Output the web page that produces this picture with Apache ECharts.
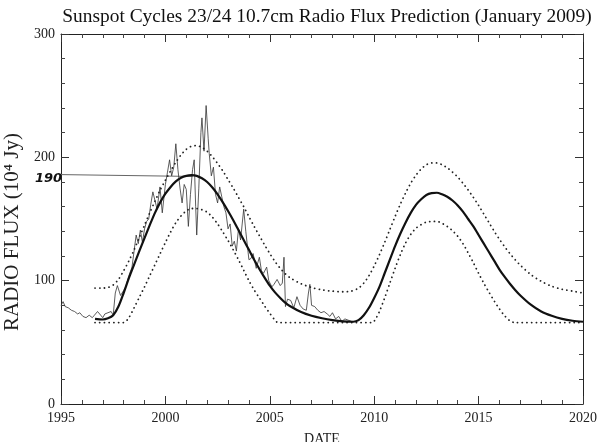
<!DOCTYPE html>
<html>
<head>
<meta charset="utf-8">
<script src="https://cdn.jsdelivr.net/npm/echarts@6/dist/echarts.min.js"></script>
<style>html,body{margin:0;padding:0;background:#fff;}#c{width:599px;height:442px;}</style>
</head>
<body>
<div id="c"></div>
<script>
// Observed monthly 10.7cm flux (thin line)
var obsYears = [1995.0,1995.1,1995.2,1995.35,1995.5,1995.65,1995.8,1995.9,1996.05,1996.2,1996.35,1996.5,1996.6,1996.75,1996.9,1997.0,1997.1,1997.25,1997.4,1997.5,1997.6,1997.7,1997.85,1998.0,1998.1,1998.25,1998.4,1998.5,1998.6,1998.7,1998.8,1998.9,1999.0,1999.1,1999.2,1999.3,1999.4,1999.5,1999.6,1999.74,1999.85,2000.0,2000.1,2000.2,2000.3,2000.4,2000.5,2000.6,2000.7,2000.8,2000.9,2001.0,2001.1,2001.2,2001.3,2001.38,2001.45,2001.5,2001.6,2001.7,2001.75,2001.85,2001.95,2002.05,2002.1,2002.2,2002.3,2002.4,2002.5,2002.6,2002.7,2002.8,2002.9,2003.0,2003.1,2003.2,2003.3,2003.4,2003.5,2003.6,2003.75,2003.85,2004.0,2004.1,2004.2,2004.35,2004.5,2004.6,2004.7,2004.85,2004.95,2005.1,2005.2,2005.35,2005.5,2005.6,2005.68,2005.75,2005.85,2006.0,2006.15,2006.3,2006.45,2006.6,2006.75,2006.85,2006.92,2007.0,2007.15,2007.3,2007.45,2007.6,2007.75,2007.88,2008.0,2008.15,2008.3,2008.45,2008.6,2008.75,2008.9];
var obsFlux = [80,83,79,78,76,75,73,74,71,70,72,70,72,75,72,70,73,74,75,72,90,96,88,92,95,104,111,124,137,130,141,131,142,148,150,162,172,165,158,176,155,178,188,198,185,192,211,190,175,163,178,174,144,170,190,198,160,137,175,220,232,205,242,215,203,185,192,170,163,176,168,160,155,142,146,128,132,124,142,133,158,140,117,118,122,110,119,108,106,111,100,95,97,101,96,98,119,79,85,84,78,87,80,77,76,90,97,80,79,76,74,75,73,71,74,69,71,67,69,68,67];

// Predicted smoothed flux (thick line)
var predYears = [1996.63,1997.0,1997.25,1997.5,1997.75,1998.0,1998.25,1998.5,1998.75,1999.0,1999.25,1999.5,1999.75,2000.0,2000.25,2000.5,2000.75,2001.0,2001.25,2001.5,2001.75,2002.0,2002.25,2002.5,2002.75,2003.0,2003.25,2003.5,2003.75,2004.0,2004.25,2004.5,2004.75,2005.0,2005.25,2005.5,2005.75,2006.0,2006.5,2007.0,2007.5,2008.0,2008.5,2009.0,2009.25,2009.5,2009.75,2010.0,2010.25,2010.5,2010.75,2011.0,2011.25,2011.5,2011.75,2012.0,2012.25,2012.5,2012.75,2013.0,2013.25,2013.5,2013.75,2014.0,2014.25,2014.5,2014.75,2015.0,2015.25,2015.5,2015.75,2016.0,2016.25,2016.5,2016.75,2017.0,2017.5,2018.0,2018.5,2019.0,2019.5,2020.0];
var predFlux = [69,68.5,69.5,72,79,90,102,113,124,134.5,145,155,163.5,170.5,176,180.5,183.5,185,185.5,185,183,180,175.5,170,163.5,156.5,149,141,133,125,117,109.5,102.5,96,90.5,86,82,79,74.5,71.5,69.5,68,67,66.7,68,72,78,86,95,106,117,128,138,147,155,161.5,166,169.5,171,171.3,170,168,165,161,156,150,144,137,130,123,116,109,103,97.5,92.5,88,80.5,75,71.5,69,67.5,66.7];

// Upper bound (dotted)
var upperYears = [1996.63,1997.0,1997.25,1997.5,1997.75,1998.0,1998.25,1998.5,1998.75,1999.0,1999.25,1999.5,1999.75,2000.0,2000.25,2000.5,2000.75,2001.0,2001.25,2001.5,2001.75,2002.0,2002.25,2002.5,2002.75,2003.0,2003.25,2003.5,2003.75,2004.0,2004.25,2004.5,2004.75,2005.0,2005.25,2005.5,2005.75,2006.0,2006.5,2007.0,2007.5,2008.0,2008.5,2008.9,2009.25,2009.5,2009.75,2010.0,2010.25,2010.5,2010.75,2011.0,2011.25,2011.5,2011.75,2012.0,2012.25,2012.5,2012.75,2013.0,2013.25,2013.5,2013.75,2014.0,2014.25,2014.5,2014.75,2015.0,2015.25,2015.5,2015.75,2016.0,2016.25,2016.5,2016.75,2017.0,2017.5,2018.0,2018.5,2019.0,2019.5,2020.0];
var upperFlux = [94,94,94.5,96.5,101,108,116,125,135,145,155,164.5,173.5,181.5,189,196,202,206.5,209,209.5,208,205,200.5,195,189,182,175,167.5,160,152,144,136.5,129,122,115.5,110,105.5,102,97.5,94.5,92.5,91.5,91,91.5,94,98,104,112,121,131,141.5,152,162,171,179,185.5,190.5,194,195.5,195.5,194,191.5,188,184,179,173.5,167.5,161,154,147,140,133.5,127.5,122,117,112.5,105,99.5,95.5,93,91.5,90];

// Lower bound (dotted)
var lowerYears = [1996.63,1998.0,1998.25,1998.5,1998.75,1999.0,1999.25,1999.5,1999.75,2000.0,2000.25,2000.5,2000.75,2001.0,2001.25,2001.5,2001.75,2002.0,2002.25,2002.5,2002.75,2003.0,2003.25,2003.5,2003.75,2004.0,2004.25,2004.5,2004.75,2005.0,2005.25,2005.4,2009.9,2010.1,2010.25,2010.5,2010.75,2011.0,2011.25,2011.5,2011.75,2012.0,2012.25,2012.5,2012.75,2013.0,2013.25,2013.5,2013.75,2014.0,2014.25,2014.5,2014.75,2015.0,2015.25,2015.5,2015.75,2016.0,2016.25,2016.5,2016.75,2020.0];
var lowerFlux = [66,66,70,78,86.5,95,104,113,122,131,139.5,147,152.5,156.5,158.5,158.5,157.5,155.5,151.5,146,139.5,132.5,125,117,108.5,100,92.5,86,79.5,73.5,68,66,66,70,75,86,98,110,121,130.5,137.5,142.5,145.5,147.5,148,148,146.5,144,140.5,136,130,122.5,114.5,106,98,90.5,83.5,77,71.5,67.5,66,66];

// Hand-drawn reference line at 190
var refYears = [1995.0, 2001.3];
var refFlux = [186, 184.5];

var xTicks = [1995, 2000, 2005, 2010, 2015, 2020];
var yTicks = [0, 100, 200, 300];

function pairs(xs, ys){ return xs.map(function(x,i){ return [x, ys[i]]; }); }

var serif = '"Liberation Serif","Times New Roman",serif';
var axisCommon = {
  type: 'value',
  axisLine: {show: true, onZero: false, lineStyle: {color: '#222', width: 1}},
  axisTick: {show: true, inside: true, length: 8, lineStyle: {color: '#333'}},
  minorTick: {show: true, splitNumber: 5, length: 4, lineStyle: {color: '#444'}},
  splitLine: {show: false},
  minorSplitLine: {show: false}
};
var dotStyle = {color: '#222', width: 1.8, type: [0.1, 4.6], cap: 'round'};

var chart = echarts.init(document.getElementById('c'), null, {renderer: 'canvas'});
chart.setOption({
  backgroundColor: '#fff',
  animation: false,
  title: {
    text: 'Sunspot Cycles 23/24 10.7cm Radio Flux Prediction (January 2009)',
    left: 322, top: 2, textAlign: 'center',
    textStyle: {fontFamily: serif, fontSize: 19.4, fontWeight: 'normal', color: '#111'}
  },
  grid: {left: 61, right: 16, top: 34, bottom: 38, containLabel: false, outerBoundsMode: 'none'},
  xAxis: [
    Object.assign({}, axisCommon, {
      position: 'bottom', min: xTicks[0], max: xTicks[xTicks.length-1], interval: 5,
      axisLabel: {show: true, margin: 7, color: '#222', fontFamily: serif, fontSize: 14,
        formatter: function(v){ return xTicks.indexOf(v) >= 0 ? String(v) : ''; }},
      name: 'DATE', nameLocation: 'middle', nameGap: 28,
      nameTextStyle: {fontFamily: serif, fontSize: 14, color: '#222'}
    }),
    Object.assign({}, axisCommon, {
      position: 'top', min: xTicks[0], max: xTicks[xTicks.length-1], interval: 5,
      axisLabel: {show: false}
    })
  ],
  yAxis: [
    Object.assign({}, axisCommon, {
      position: 'left', min: yTicks[0], max: yTicks[yTicks.length-1], interval: 100,
      axisLabel: {show: true, margin: 6, color: '#222', fontFamily: serif, fontSize: 14,
        formatter: function(v){ return yTicks.indexOf(v) >= 0 ? String(v) : ''; }},
      name: 'RADIO FLUX (10\u2074 Jy)', nameLocation: 'middle', nameGap: 34,
      nameTextStyle: {fontFamily: serif, fontSize: 21, color: '#222', padding: [0, 0, 0, -26]}
    }),
    Object.assign({}, axisCommon, {
      position: 'right', min: yTicks[0], max: yTicks[yTicks.length-1], interval: 100,
      axisLabel: {show: false}
    })
  ],
  graphic: [{
    type: 'text', left: 35, top: 172,
    style: {text: '190', fontFamily: '"DejaVu Sans", sans-serif', fontWeight: 'bold', fontStyle: 'italic', fontSize: 13, fill: '#111'}
  }],
  series: [
    {
      name: 'ref', type: 'line', data: pairs(refYears, refFlux), showSymbol: false, silent: true,
      lineStyle: {color: '#666', width: 1}
    },
    {
      name: 'observed', type: 'line', data: pairs(obsYears, obsFlux), showSymbol: false,
      lineStyle: {color: '#333', width: 0.8}
    },
    {
      name: 'upper', type: 'line', data: pairs(upperYears, upperFlux), showSymbol: false,
      smooth: 0.3, lineStyle: dotStyle
    },
    {
      name: 'lower', type: 'line', data: pairs(lowerYears, lowerFlux), showSymbol: false,
      smooth: 0.3, lineStyle: dotStyle
    },
    {
      name: 'predicted', type: 'line', data: pairs(predYears, predFlux), showSymbol: false,
      smooth: 0.3, lineStyle: {color: '#111', width: 2.2}
    }
  ]
});
</script>
</body>
</html>
